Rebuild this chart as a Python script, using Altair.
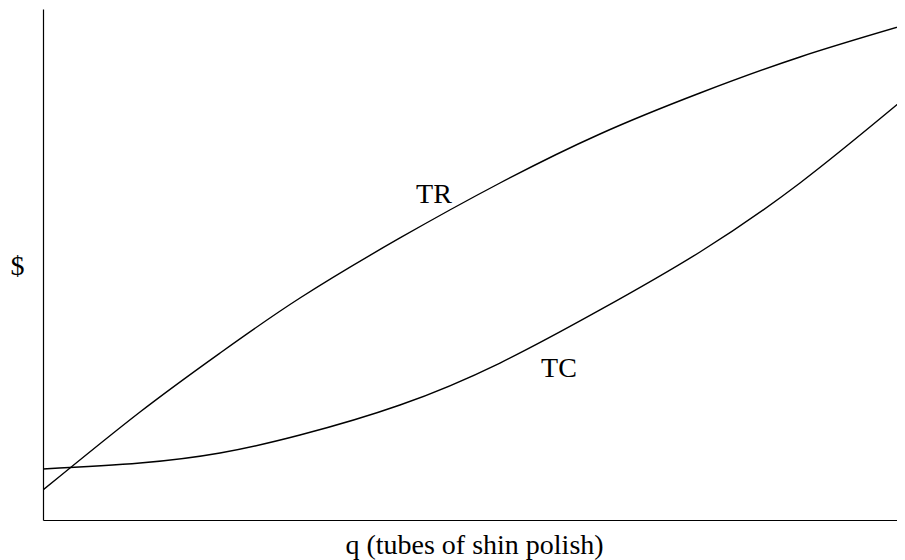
import altair as alt
import pandas as pd

# quantity positions (share of the drawn q range, 0-100)
q_values = [0, 11.36, 20.73, 30.09, 41.80, 53.51, 65.22, 76.93, 88.64, 100.94]
# total revenue and total cost ($, arbitrary 0-100 scale)
tr_values = [5.87, 21.14, 32.68, 43.44, 55.19, 65.95, 75.54, 83.56, 90.61, 96.87]
tc_values = [9.98, 11.15, 13.11, 16.63, 22.50, 30.72, 41.10, 52.45, 65.95, 82.58]

label_text = ["TR", "TC"]
label_q = [45.78, 60.42]
label_d = [62.04, 27.98]

rows = []
for q, v in zip(q_values, tr_values):
    rows.append({"q": q, "d": v, "series": "TR"})
for q, v in zip(q_values, tc_values):
    rows.append({"q": q, "d": v, "series": "TC"})
df = pd.DataFrame(rows)
labels = pd.DataFrame({"q": label_q, "d": label_d, "t": label_text})

FONT = "Liberation Serif"

xscale = alt.Scale(domain=[0, 100], nice=False, zero=False)
yscale = alt.Scale(domain=[0, 100], nice=False, zero=False)

lines = alt.Chart(df).mark_line(
    color="black", strokeWidth=1.4, interpolate="natural", clip=True
).encode(
    x=alt.X("q:Q", scale=xscale, axis=alt.Axis(
        title="q (tubes of shin polish)", labels=False, ticks=False, grid=False,
        domainColor="black", domainWidth=1.2,
        titleFont=FONT, titleFontSize=28, titleFontWeight="normal", titleColor="black",
        titleX=431, titleY=33, titleAlign="center", titleBaseline="alphabetic")),
    y=alt.Y("d:Q", scale=yscale, axis=alt.Axis(
        title="$", labels=False, ticks=False, grid=False,
        domainColor="black", domainWidth=1.2,
        titleFont=FONT, titleFontSize=28, titleFontWeight="normal", titleColor="black",
        titleAngle=0, titleX=-26, titleY=265, titleAlign="center", titleBaseline="alphabetic")),
    detail="series:N",
)

text = alt.Chart(labels).mark_text(
    font=FONT, fontSize=28, color="black", align="center", baseline="alphabetic"
).encode(
    x=alt.X("q:Q", scale=xscale),
    y=alt.Y("d:Q", scale=yscale),
    text="t:N",
)

chart = alt.layer(lines, text).properties(
    width=854, height=511,
    background="white",
    autosize=alt.AutoSizeParams(type="none"),
    padding={"left": 35, "top": 1, "right": 0, "bottom": 40},
).configure_view(stroke=None)

chart.save("out.html", embed_options={"renderer": "svg", "actions": False})
